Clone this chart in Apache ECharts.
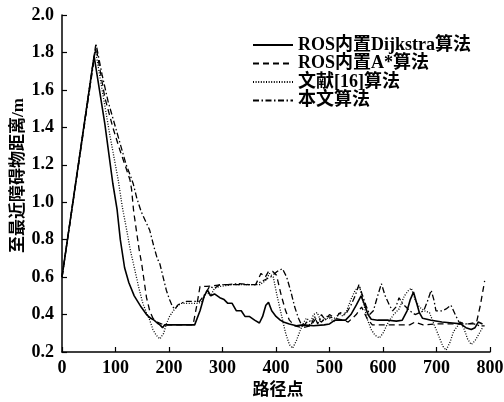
<!DOCTYPE html>
<html>
<head>
<meta charset="utf-8">
<script src="https://cdn.jsdelivr.net/npm/echarts@6/dist/echarts.min.js"></script>
<style>html,body{margin:0;padding:0;background:#fff;}#c{width:504px;height:402px;}</style>
</head>
<body>
<div id="c"></div>
<script>
var seriesNames = ['ROS内置Dijkstra算法', 'ROS内置A*算法', '文献[16]算法', '本文算法'];
var xTicks = [0, 100, 200, 300, 400, 500, 600, 700, 800];
var yTicks = [0.2, 0.4, 0.6, 0.8, 1.0, 1.2, 1.4, 1.6, 1.8, 2.0];

var dijkstra = [[0,0.6],[60,1.78],[70,1.6],[80,1.42],[95,1.1],[103,0.96],[109,0.8],[117,0.65],[125,0.57],[135,0.5],[148,0.44],[158,0.4],[166,0.38],[172,0.37],[178,0.355],[183,0.345],[188,0.33],[192,0.345],[200,0.345],[248,0.345],[258,0.42],[266,0.5],[272,0.53],[278,0.5],[285,0.51],[295,0.49],[303,0.48],[310,0.46],[318,0.46],[326,0.42],[335,0.42],[342,0.39],[350,0.39],[360,0.37],[369,0.355],[375,0.39],[381,0.45],[386,0.465],[392,0.42],[400,0.39],[408,0.37],[414,0.36],[425,0.35],[438,0.34],[450,0.345],[470,0.34],[490,0.345],[500,0.35],[510,0.37],[530,0.37],[540,0.4],[550,0.45],[559,0.5],[566,0.45],[572,0.4],[578,0.375],[590,0.37],[610,0.37],[625,0.365],[636,0.37],[645,0.42],[651,0.48],[657,0.52],[663,0.46],[668,0.41],[674,0.38],[690,0.37],[710,0.36],[730,0.355],[745,0.35],[755,0.33],[765,0.32],[772,0.33],[778,0.36],[786,0.35]];

var astar = [[0,0.6],[63,1.84],[80,1.56],[95,1.4],[108,1.28],[120,1.18],[127,1.12],[130,1.07],[134,0.95],[139,0.85],[144,0.75],[149,0.67],[154,0.57],[158,0.49],[164,0.42],[170,0.38],[178,0.36],[190,0.345],[245,0.345],[252,0.45],[258,0.55],[270,0.55],[300,0.56],[330,0.56],[362,0.56],[372,0.62],[380,0.6],[386,0.63],[394,0.63],[401,0.61],[410,0.5],[418,0.42],[425,0.37],[435,0.34],[450,0.33],[465,0.34],[475,0.38],[485,0.36],[495,0.39],[510,0.38],[525,0.37],[535,0.36],[550,0.4],[560,0.44],[570,0.38],[580,0.345],[620,0.345],[650,0.345],[660,0.36],[675,0.345],[700,0.35],[730,0.35],[760,0.35],[775,0.36],[782,0.45],[790,0.58]];

var ref16 = [[0,0.6],[62,1.82],[75,1.6],[90,1.35],[105,1.12],[113,0.97],[121,0.85],[128,0.74],[136,0.64],[143,0.55],[151,0.46],[158,0.41],[164,0.37],[170,0.32],[176,0.29],[183,0.27],[190,0.3],[195,0.35],[201,0.39],[208,0.42],[214,0.44],[222,0.46],[240,0.46],[255,0.46],[262,0.47],[270,0.52],[278,0.5],[285,0.54],[295,0.55],[320,0.56],[350,0.56],[370,0.56],[380,0.58],[388,0.62],[395,0.6],[402,0.5],[410,0.4],[418,0.3],[425,0.24],[431,0.22],[438,0.26],[446,0.32],[452,0.36],[457,0.38],[465,0.36],[470,0.4],[477,0.41],[485,0.36],[492,0.38],[500,0.38],[510,0.36],[518,0.41],[525,0.39],[532,0.42],[540,0.48],[548,0.53],[556,0.55],[563,0.47],[570,0.38],[578,0.32],[585,0.29],[593,0.275],[600,0.3],[610,0.36],[620,0.4],[630,0.43],[640,0.5],[648,0.53],[653,0.54],[660,0.48],[668,0.44],[678,0.42],[687,0.41],[695,0.35],[705,0.28],[712,0.23],[718,0.21],[725,0.25],[732,0.31],[737,0.33],[745,0.36],[752,0.32],[758,0.27],[765,0.24],[772,0.26],[780,0.3],[786,0.33]];

var ours = [[0,0.6],[64,1.84],[75,1.68],[86,1.54],[100,1.4],[110,1.3],[120,1.2],[128,1.14],[133,1.1],[140,1.02],[148,0.95],[156,0.9],[164,0.85],[172,0.76],[178,0.7],[183,0.67],[189,0.6],[195,0.53],[201,0.48],[207,0.44],[212,0.43],[216,0.45],[222,0.46],[233,0.47],[245,0.47],[257,0.47],[265,0.5],[276,0.55],[285,0.54],[295,0.56],[310,0.56],[330,0.565],[350,0.56],[362,0.56],[375,0.58],[390,0.6],[402,0.63],[412,0.645],[420,0.6],[428,0.52],[435,0.44],[442,0.38],[450,0.33],[457,0.36],[465,0.34],[472,0.39],[478,0.35],[485,0.4],[492,0.37],[500,0.4],[510,0.38],[520,0.41],[530,0.4],[540,0.45],[548,0.5],[555,0.56],[562,0.5],[568,0.45],[575,0.4],[582,0.42],[590,0.5],[597,0.565],[604,0.5],[612,0.45],[618,0.42],[624,0.44],[630,0.49],[636,0.46],[643,0.44],[650,0.42],[660,0.4],[668,0.41],[676,0.42],[683,0.47],[690,0.53],[695,0.48],[699,0.42],[710,0.42],[718,0.43],[727,0.45],[735,0.4],[742,0.36],[755,0.35],[770,0.35],[780,0.34],[790,0.34]];

var dataList = [dijkstra, astar, ref16, ours];
var dashes = ['solid', [6, 4], [1, 1.6], [6, 2.5, 1.5, 2.5]];
var widths = [1.6, 1.3, 1.3, 1.3];

var FONT = '"Liberation Serif", "Noto Sans CJK SC", serif';
var chart = echarts.init(document.getElementById('c'));
chart.setOption({
  animation: false,
  backgroundColor: '#fff',
  grid: { left: 62, right: 14, top: 15, bottom: 50, containLabel: false, outerBoundsMode: 'none' },
  legend: {
    orient: 'vertical', left: 252, top: 36, padding: 0,
    itemWidth: 40, itemHeight: 14, itemGap: 0.5,
    data: seriesNames,
    itemStyle: { color: 'rgba(0,0,0,0)', borderWidth: 0, opacity: 0 },
    textStyle: { fontFamily: FONT, fontWeight: 'bold', fontSize: 18, lineHeight: 18, color: '#000' }
  },
  xAxis: {
    type: 'value', min: xTicks[0], max: xTicks[xTicks.length - 1], interval: 100,
    name: '路径点', nameLocation: 'middle', nameGap: 30, nameMoveOverlap: false,
    nameTextStyle: { fontFamily: FONT, fontWeight: 'bold', fontSize: 17, color: '#000', padding: [0, 0, 0, 4] },
    axisLine: { lineStyle: { color: '#000', width: 1.5 } },
    axisTick: { inside: true, length: 5, lineStyle: { color: '#000', width: 1.2 } },
    axisLabel: { fontFamily: FONT, fontWeight: 'bold', fontSize: 18, color: '#000', margin: 7 },
    splitLine: { show: false }
  },
  yAxis: {
    type: 'value', min: yTicks[0], max: yTicks[yTicks.length - 1], interval: 0.2,
    name: '至最近障碍物距离/m', nameLocation: 'middle', nameGap: 35, nameMoveOverlap: false,
    nameTextStyle: { fontFamily: FONT, fontWeight: 'bold', fontSize: 17, color: '#000', padding: [0, 0, 0, 16] },
    axisLine: { show: true, lineStyle: { color: '#000', width: 1.5 } },
    axisTick: { show: true, inside: true, length: 5, lineStyle: { color: '#000', width: 1.2 } },
    axisLabel: { fontFamily: FONT, fontWeight: 'bold', fontSize: 18, color: '#000', margin: 8,
      formatter: function (v) { return v.toFixed(1); } },
    splitLine: { show: false }
  },
  series: dataList.map(function (d, i) {
    return {
      name: seriesNames[i], type: 'line', data: d, showSymbol: false, symbol: 'none',
      lineStyle: { color: '#000', width: widths[i], type: dashes[i] },
      itemStyle: { color: '#000' }
    };
  })
});
</script>
</body>
</html>
